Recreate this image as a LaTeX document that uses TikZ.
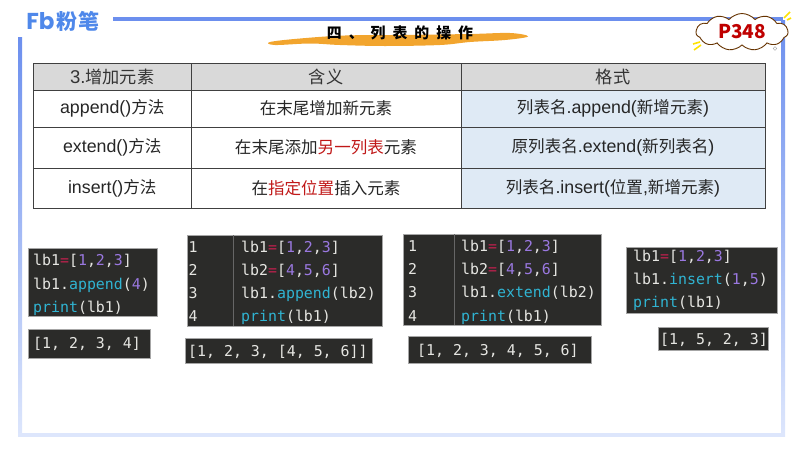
\documentclass[tikz,border=0pt]{standalone}
\usepackage{fontspec}
\setmainfont{Liberation Sans}
\newfontfamily\cjk[Scale=0.93]{Noto Sans CJK SC}
\newfontfamily\codefont{DejaVu Sans Mono}
\newfontfamily\logofont{Poppins}
\usepackage{tikz}
\usetikzlibrary{shapes.symbols, positioning}

\definecolor{framecol}{HTML}{6C8FEE}
\definecolor{framepale}{HTML}{DDE6FC}
\definecolor{logocol}{HTML}{4F88EA}
\definecolor{brushcol}{HTML}{F2A52E}
\definecolor{codebg}{HTML}{2B2B29}
\definecolor{codetxt}{HTML}{E6E6E2}
\definecolor{codefn}{HTML}{30B4D2}
\definecolor{codenum}{HTML}{9A78E0}
\definecolor{codeeq}{HTML}{C2204E}
\definecolor{headgray}{HTML}{D9D9D9}
\definecolor{cellblue}{HTML}{DFEAF5}
\definecolor{redword}{HTML}{C01818}

\newcommand{\zh}[1]{{\cjk #1}}
\newcommand{\rd}[1]{{\cjk\color{redword}#1}}
\newcommand{\fn}[1]{\textcolor{codefn}{#1}}
\newcommand{\nm}[1]{\textcolor{codenum}{#1}}
\newcommand{\eqs}{\textcolor{codeeq}{=}}

\begin{document}
\begin{tikzpicture}[
    x=1pt, y=-1pt,
    node distance=0pt,
    headcell/.style={rectangle, draw=black!75, line width=0.9pt, fill=headgray, outer sep=0pt, inner sep=0pt, text=black!80, font=\fontsize{18.5}{20}\selectfont},
    bodycell/.style={rectangle, draw=black!75, line width=0.9pt, outer sep=0pt, inner sep=0pt, text=black!85, font=\fontsize{17.8}{20}\selectfont},
    codebox/.style={rectangle, anchor=north west, fill=codebg, draw=black!35, line width=0.4pt, inner sep=0pt},
    codeline/.style={anchor=west, inner sep=0pt, text height=14pt, text depth=3pt, text=codetxt, font=\codefont\fontsize{14.9}{17}\selectfont},
    spark/.style={draw=yellow!85!orange, line width=1.6pt}
]
\useasboundingbox (0,0) rectangle (800,450);

% Frame
\shade [top color=framecol, bottom color=framepale] (18,37) rectangle (22,436);
\shade [top color=framecol, bottom color=framepale] (781,20) rectangle (785,436);
\fill [framepale] (18,433) rectangle (785,437);
\fill [framecol] (113,17) rectangle (783,20.5);

% Logo
\node (logofb) [inner sep=0pt, text=logocol, font=\logofont\bfseries\fontsize{23}{24}\selectfont] at (40.5,21.5) {Fb};
\node (logozh) [inner sep=0pt, text=logocol, font=\cjk\bfseries\fontsize{22.6}{23}\selectfont] at (78,21.5) {粉笔};

% Title
\fill [brushcol] plot [smooth cycle, tension=0.6] coordinates {(270,42) (300,38.5) (345,35.5) (400,35) (470,34) (510,33) (528,36.5) (505,40) (470,42) (440,45) (385,46) (340,45) (310,43.5) (275,45)};
\node (title) [inner sep=0pt, text=black, font=\cjk\bfseries\fontsize{16}{17}\selectfont] at (400,33) {四\hspace{7pt}、\hspace{7pt}列\hspace{7pt}表\hspace{7pt}的\hspace{7pt}操\hspace{7pt}作};

% Page mark
\draw [spark] (693,44) -- (700,42);
\draw [spark] (694,50) -- (701,45);
\draw [spark] (784,18) -- (790,12);
\draw [spark] (787,20) -- (791,18);
\node (page) [cloud, cloud puffs=11, cloud puff arc=100, aspect=2.6, draw=black!60!orange, line width=0.9pt, fill=white, inner sep=0pt, minimum width=92pt, minimum height=37pt, text=red!75!black, font=\cjk\bfseries\fontsize{20.5}{22}\selectfont] at (742,32) {P348};
\draw [black!40, line width=0.4pt] (775,48.5) circle (1.8);

% Table
\node (head1) [headcell, anchor=north west, minimum width=157.5pt, minimum height=27pt] at (33.5,63) {3.\zh{增加元素}};
\node (head2) [headcell, right=of head1, minimum width=270pt, minimum height=27pt] {\zh{含义}};
\node (head3) [headcell, right=of head2, minimum width=304pt, minimum height=27pt] {\zh{格式}};

\node (append) [bodycell, below=of head1, minimum width=157.5pt, minimum height=37pt] {append()\zh{方法}};
\node (appendmean) [bodycell, right=of append, minimum width=270pt, minimum height=37pt] {\zh{在末尾增加新元素}};
\node (appendform) [bodycell, right=of appendmean, fill=cellblue, minimum width=304pt, minimum height=37pt] {\zh{列表名}.append(\zh{新增元素})};

\node (extend) [bodycell, below=of append, minimum width=157.5pt, minimum height=41pt] {extend()\zh{方法}};
\node (extendmean) [bodycell, right=of extend, minimum width=270pt, minimum height=41pt] {\zh{在末尾添加}\rd{另一列表}\zh{元素}};
\node (extendform) [bodycell, right=of extendmean, fill=cellblue, minimum width=304pt, minimum height=41pt] {\zh{原列表名}.extend(\zh{新列表名})};

\node (insert) [bodycell, below=of extend, minimum width=157.5pt, minimum height=40pt] {insert()\zh{方法}};
\node (insertmean) [bodycell, right=of insert, minimum width=270pt, minimum height=40pt] {\zh{在}\rd{指定位置}\zh{插入元素}};
\node (insertform) [bodycell, right=of insertmean, fill=cellblue, minimum width=304pt, minimum height=40pt] {\zh{列表名}.insert(\zh{位置},\zh{新增元素})};

% Code append
\node (codeA) [codebox, minimum width=129pt, minimum height=68pt] at (27.5,248) {};
\node (codeA1) [codeline] at (33,260) {lb1\eqs[\nm{1},\nm{2},\nm{3}]};
\node (codeA2) [codeline] at (33,284) {lb1.\fn{append}(\nm{4})};
\node (codeA3) [codeline] at (33,307) {\fn{print}(lb1)};
\node (outA) [codebox, minimum width=122pt, minimum height=29pt] at (27.5,329) {};
\node (outA1) [codeline] at (33,343) {[1, 2, 3, 4]};

% Code append list
\node (codeB) [codebox, minimum width=195pt, minimum height=91pt] at (187,235) {};
\node (numB1) [codeline] at (188.5,247) {1};
\node (numB2) [codeline] at (188.5,270) {2};
\node (numB3) [codeline] at (188.5,293) {3};
\node (numB4) [codeline] at (188.5,316) {4};
\draw [black!60, line width=0.5pt] (codeB.north west) ++(46,0) coordinate (divB) -- (divB |- codeB.south);
\node (codeB1) [codeline] at (241,247) {lb1\eqs[\nm{1},\nm{2},\nm{3}]};
\node (codeB2) [codeline] at (241,270) {lb2\eqs[\nm{4},\nm{5},\nm{6}]};
\node (codeB3) [codeline] at (241,293) {lb1.\fn{append}(lb2)};
\node (codeB4) [codeline] at (241,316) {\fn{print}(lb1)};
\node (outB) [codebox, minimum width=187pt, minimum height=25pt] at (185,338) {};
\node (outB1) [codeline] at (188,350.5) {[1, 2, 3, [4, 5, 6]]};

% Code extend
\node (codeC) [codebox, minimum width=198pt, minimum height=91pt] at (403,234) {};
\node (numC1) [codeline] at (408,245.5) {1};
\node (numC2) [codeline] at (408,269) {2};
\node (numC3) [codeline] at (408,292) {3};
\node (numC4) [codeline] at (408,316) {4};
\draw [black!60, line width=0.5pt] (codeC.north west) ++(51,0) coordinate (divC) -- (divC |- codeC.south);
\node (codeC1) [codeline] at (461,245.5) {lb1\eqs[\nm{1},\nm{2},\nm{3}]};
\node (codeC2) [codeline] at (461,269) {lb2\eqs[\nm{4},\nm{5},\nm{6}]};
\node (codeC3) [codeline] at (461,292) {lb1.\fn{extend}(lb2)};
\node (codeC4) [codeline] at (461,316) {\fn{print}(lb1)};
\node (outC) [codebox, minimum width=183pt, minimum height=27pt] at (408,336) {};
\node (outC1) [codeline] at (417,350) {[1, 2, 3, 4, 5, 6]};

% Code insert
\node (codeD) [codebox, minimum width=151pt, minimum height=66pt] at (626,247) {};
\node (codeD1) [codeline] at (633,256) {lb1\eqs[\nm{1},\nm{2},\nm{3}]};
\node (codeD2) [codeline] at (633,279) {lb1.\fn{insert}(\nm{1},\nm{5})};
\node (codeD3) [codeline] at (633,302) {\fn{print}(lb1)};
\node (outD) [codebox, minimum width=110pt, minimum height=23pt] at (658,327) {};
\node (outD1) [codeline] at (660,339) {[1, 5, 2, 3]};

\end{tikzpicture}
\end{document}
